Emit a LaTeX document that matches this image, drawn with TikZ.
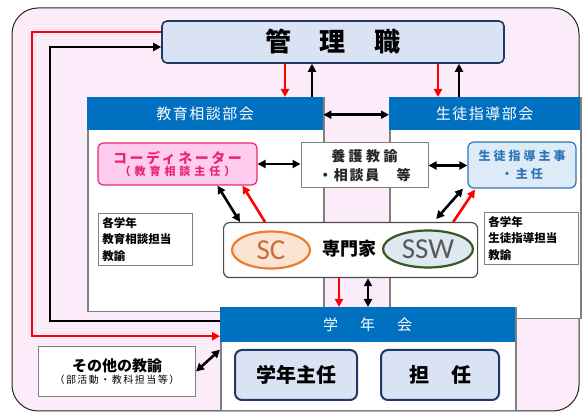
\documentclass[tikz,border=0pt]{standalone}
\usepackage{fontspec}
\setmainfont{Noto Sans CJK JP}
\newfontfamily\latinfont{Carlito}
\usetikzlibrary{arrows.meta,shapes.geometric,calc}
\definecolor{bgpink}{RGB}{252,236,250}
\definecolor{hdrblue}{RGB}{0,112,192}
\definecolor{kanrifill}{RGB}{218,227,243}
\definecolor{navy}{RGB}{31,56,100}
\definecolor{boxgray}{RGB}{128,128,128}
\definecolor{coordred}{RGB}{232,40,110}
\definecolor{coordfill}{RGB}{255,204,240}
\definecolor{shidoblue}{RGB}{46,117,182}
\definecolor{shidofill}{RGB}{221,235,247}
\definecolor{scorange}{RGB}{237,125,49}
\definecolor{scfill}{RGB}{252,228,210}
\definecolor{sctext}{RGB}{200,110,60}
\definecolor{sswgreen}{RGB}{56,87,35}
\definecolor{sswfill}{RGB}{222,232,240}
\newcommand\wide[1]{\addfontfeatures{LetterSpace=#1}}
\tikzset{
  bukai/.style={draw=boxgray,line width=1.5pt,fill=white,anchor=north west,inner sep=0},
  hdr/.style={fill=hdrblue,text=white,anchor=north west,inner sep=0,font=\fontsize{15}{17}\selectfont},
  memo/.style={draw=boxgray,line width=.8pt,fill=white,anchor=north west,align=left,
    text width=86pt,inner sep=4pt,font=\fontsize{11.5}{16.5}\selectfont\bfseries},
  role/.style={draw=navy,line width=2pt,fill=kanrifill,rounded corners=7pt,
    minimum height=50pt,font=\fontsize{20}{22}\selectfont\bfseries},
  tip/.style={-{Triangle[length=8pt,width=8pt]}},
  redarr/.style={tip,red,line width=2.6pt},
  blkarr/.style={tip,black,line width=2.6pt},
  dblarr/.style={{Triangle[length=8pt,width=8pt]}-{Triangle[length=8pt,width=8pt]},black,line width=2.6pt}
}
\begin{document}
\begin{tikzpicture}[x=1pt,y=-1pt]
\useasboundingbox (0,0) rectangle (582,414);
%background
\draw[rounded corners=26pt,fill=bgpink,draw=black!85,line width=1pt](12,8) rectangle (579,411);
%boxes
\node[draw=navy,line width=1.6pt,fill=kanrifill,rounded corners=5pt,minimum width=342pt,minimum height=42pt,
  font=\fontsize{26}{28}\selectfont\bfseries](kanri)at(333,42){管\hspace{29pt}理\hspace{29pt}職};
\node[bukai,minimum width=236pt,minimum height=214pt](kyo)at(87,97){};
\node[hdr,minimum width=236pt,minimum height=33pt](kyoh)at(87,97){\wide{10}教育相談部会};
\node[bukai,minimum width=191pt,minimum height=221pt](seito)at(389,97){};
\node[hdr,minimum width=191pt,minimum height=33pt](seitoh)at(389,97){\wide{10}生徒指導部会};
\node[draw=coordred,line width=1.2pt,fill=coordfill,rounded corners=5pt,minimum width=159pt,minimum height=42pt,
  text=coordred,align=center,inner sep=1pt](coord)at(177.5,164)
  {{\fontsize{14}{17}\selectfont\bfseries\wide{18}コーディネーター}\\{\fontsize{11}{13}\selectfont\bfseries\wide{36}（教育相談主任）}};
\node[draw=boxgray,line width=1pt,fill=white,minimum width=127pt,minimum height=45pt,align=center,
  font=\fontsize{14}{19}\selectfont\bfseries,text=black!85](yogo)at(364.5,165.5){{\wide{25}養護教諭}\\{\wide{12}・相談員　等}};
\node[draw=shidoblue,line width=1.2pt,fill=shidofill,rounded corners=6pt,minimum width=108pt,minimum height=46pt,
  align=center,text=shidoblue,font=\fontsize{12}{18}\selectfont\bfseries](shido)at(522,165){{\wide{25}生徒指導主事}\\{\wide{25}・主任}};
\node[memo](kakul)at(98,213){各学年\\教育相談担当\\教諭};
\node[memo](kakur)at(484,212){各学年\\生徒指導担当\\教諭};
\node[draw=black!70,line width=1.2pt,fill=white,rounded corners=6pt,anchor=north west,
  minimum width=254pt,minimum height=55pt](senmon)at(223,222){};
\node[ellipse,draw=scorange,line width=2.2pt,fill=scfill,minimum width=78pt,minimum height=37pt,inner sep=0,
  text=sctext,font=\latinfont\fontsize{29}{30}\selectfont](sc)at(271,250){SC};
\node[font=\fontsize{18}{20}\selectfont\bfseries](senmonlbl)at(349,249){専門家};
\node[ellipse,draw=sswgreen,line width=2.2pt,fill=sswfill,minimum width=90pt,minimum height=37pt,inner sep=0,
  text=black!65,font=\latinfont\fontsize{29}{30}\selectfont](ssw)at(428,249){SSW};
\node[bukai,minimum width=295pt,minimum height=103pt](gak)at(220,307){};
\node[hdr,minimum width=295pt,minimum height=35pt](gakh)at(220,307){学\hspace{22pt}年\hspace{22pt}会};
\node[role,minimum width=122pt](nushi)at(296,375){学年主任};
\node[role,minimum width=118pt](tannin)at(440,375){担\hspace{22pt}任};
\node[draw=boxgray,line width=1pt,fill=white,anchor=north west,minimum width=157pt,minimum height=50pt,
  align=center,inner sep=1pt](sonota)at(38,346)
  {{\fontsize{15}{18}\selectfont\bfseries その他の教諭}\\{\fontsize{10}{12}\selectfont\wide{15}（部活動・教科担当等）}};
%arrows
\draw[redarr]([xshift=-48pt]kanri.south)--([xshift=-48pt]kanri.south |- kyoh.north);
\draw[blkarr]([xshift=-21pt]kanri.south |- kyoh.north)--([xshift=-21pt]kanri.south);
\draw[redarr]([xshift=105pt]kanri.south)--([xshift=105pt]kanri.south |- seitoh.north);
\draw[blkarr]([xshift=126pt]kanri.south |- seitoh.north)--([xshift=126pt]kanri.south);
\draw[dblarr]([yshift=-1pt]kyoh.east)--([yshift=-1pt]seitoh.west);
\draw[dblarr](coord.east)--(coord.east -| yogo.west);
\draw[dblarr](yogo.east)--(yogo.east -| shido.west);
\draw[dblarr]([xshift=17pt]senmon.north west)--([xshift=40pt]coord.south);
\draw[redarr]([xshift=42pt]senmon.north west)--([xshift=65pt]coord.south);
\draw[dblarr]([xshift=-42pt,yshift=3pt]senmon.north east)--([xshift=-59pt]shido.south);
\draw[redarr]([xshift=-25pt]senmon.north east)--([xshift=-47pt,yshift=-1pt]shido.south);
\draw[redarr]([xshift=-10pt]senmonlbl.center |- senmon.south)--([xshift=-10pt]senmonlbl.center |- gakh.north);
\draw[dblarr]([xshift=19pt]senmonlbl.center |- senmon.south)--([xshift=19pt]senmonlbl.center |- gakh.north);
\draw[dblarr](sonota.east)--([yshift=9.5pt]gak.west);
%long lines
\coordinate(lred)at(32,0);
\coordinate(lblk)at(50,0);
\coordinate(rin)at([yshift=-11.5pt]gakh.west);
\coordinate(bout)at([yshift=3.5pt]gakh.west);
\coordinate(bin)at([yshift=-5pt]kanri.west);
\draw[redarr]([yshift=10pt]kanri.west)-|(lred |- rin)--(rin);
\draw[blkarr](bout)-|(lblk |- bin)--(bin);
\end{tikzpicture}
\end{document}
